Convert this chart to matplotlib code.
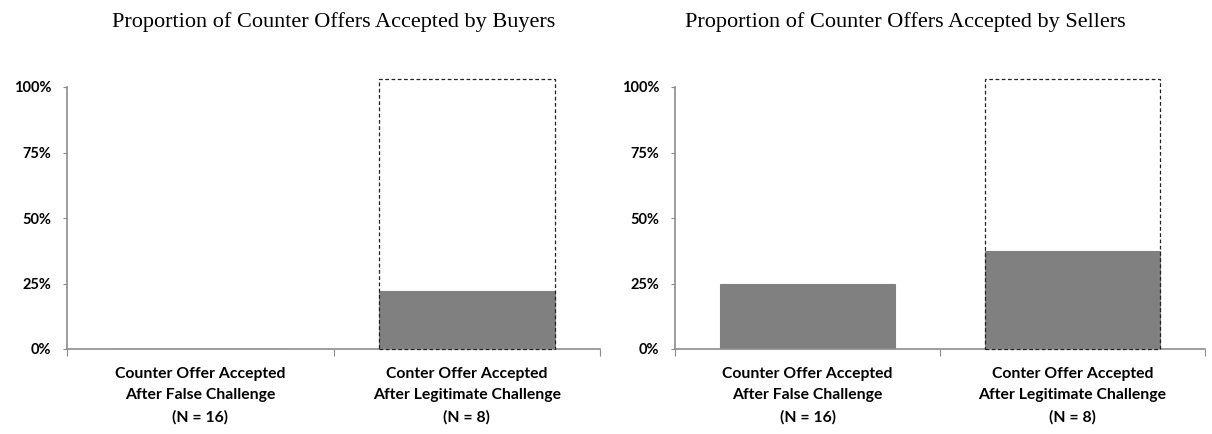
import numpy as np
import matplotlib
matplotlib.use("Agg")
import matplotlib.pyplot as plt
from matplotlib.ticker import FixedLocator, PercentFormatter

# Data
categories = ["Counter Offer Accepted\nAfter False Challenge\n(N = 16)",
              "Conter Offer Accepted\nAfter Legitimate Challenge\n(N = 8)"]
buyers_accepted = [0.0, 0.22]
sellers_accepted = [0.25, 0.375]
outline_height = [0.0, 1.03]   # dashed "total" box drawn around the legitimate bar
titles = ["Proportion of Counter Offers Accepted by Buyers",
          "Proportion of Counter Offers Accepted by Sellers"]
yticks = [0, 0.25, 0.5, 0.75, 1.0]

fig = plt.figure(figsize=(12.12, 4.34), dpi=100)
ax_left = fig.add_axes([67 / 1212, 1 - 349 / 434, 533 / 1212, 262 / 434])
ax_right = fig.add_axes([675 / 1212, 1 - 349 / 434, 530 / 1212, 262 / 434])

spine_color = "#8c8c8c"
bar_color = "#808080"
label_font = dict(family=["Lato", "DejaVu Sans"], weight="bold", size=11.3)

for ax, values, title, tx in zip([ax_left, ax_right],
                                 [buyers_accepted, sellers_accepted],
                                 titles, [334 / 1212, 905 / 1212]):
    x = np.arange(len(categories))
    ax.bar(x, values, width=0.66, color=bar_color, edgecolor=bar_color, linewidth=0.8)
    # dashed outline box on the legitimate-challenge bar
    for xi, h in zip(x, outline_height):
        if h > 0:
            ax.bar(xi, h, width=0.66, fill=False, edgecolor="#222222",
                   linestyle=(0, (3, 2)), linewidth=0.9, clip_on=False, zorder=3)

    ax.set_xlim(-0.5, 1.5)
    ax.set_ylim(0, 1)
    for side in ["top", "right"]:
        ax.spines[side].set_visible(False)
    for side in ["left", "bottom"]:
        ax.spines[side].set_color(spine_color)
        ax.spines[side].set_linewidth(1.2)

    ax.yaxis.set_major_locator(FixedLocator(yticks))
    ax.yaxis.set_major_formatter(PercentFormatter(1.0, decimals=0))
    ax.tick_params(axis="y", direction="out", length=3, color=spine_color, pad=8.5)
    for lbl in ax.get_yticklabels():
        lbl.set_fontfamily(["Lato", "DejaVu Sans"])
        lbl.set_fontweight("bold")
        lbl.set_fontsize(10.5)

    # boundary ticks on x, category labels as minor ticks
    ax.set_xticks([-0.5, 0.5, 1.5])
    ax.set_xticklabels([])
    ax.tick_params(axis="x", which="major", direction="out", length=5, color=spine_color)
    ax.set_xticks(x, minor=True)
    ax.set_xticklabels(categories, minor=True, linespacing=1.65, **label_font)
    ax.tick_params(axis="x", which="minor", length=0, pad=13)

    fig.text(tx, 1 - 22.5 / 434, title, ha="center", va="center",
             family=["Liberation Serif", "DejaVu Serif"], fontsize=16)

fig.savefig("out.png", dpi=100)
